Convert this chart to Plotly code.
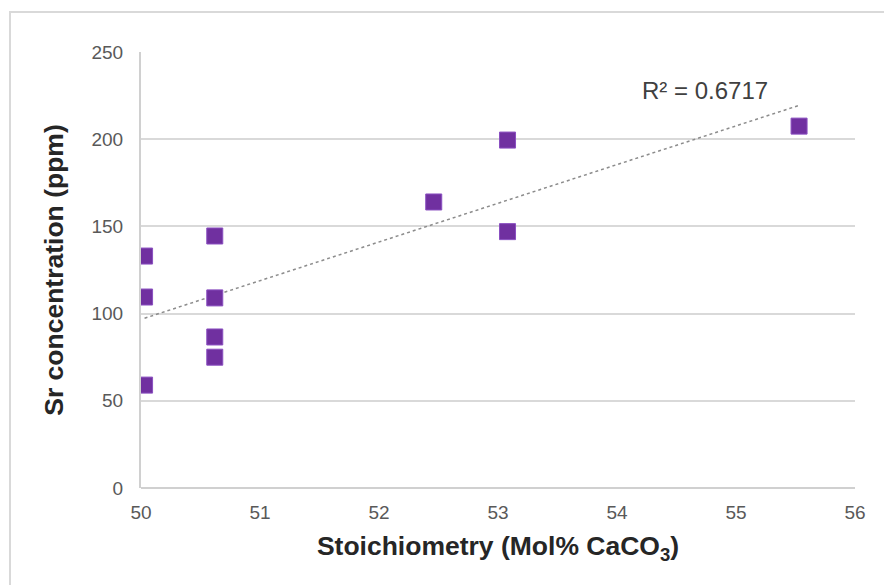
import numpy as np
import plotly.graph_objects as go

# Data
stoich = [50.03, 50.03, 50.03, 50.62, 50.62, 50.62, 50.62, 52.46, 53.08, 53.08, 55.53]
sr_ppm = [133, 109.5, 59, 144.5, 109, 86.6, 75, 164, 199.5, 147, 207.5]
r2_label = "R² = 0.6717"
x_ticks = [50, 51, 52, 53, 54, 55, 56]
y_ticks = [0, 50, 100, 150, 200, 250]

# Linear trendline from the data
coef = np.polyfit(stoich, sr_ppm, 1)
tx = np.array([min(stoich), max(stoich)])
ty = np.polyval(coef, tx)

W, H = 884, 577
ML, MR, MT, MB = 133, 37, 44, 97
PW, PH = W - ML - MR, H - MT - MB

fig = go.Figure()
fig.add_trace(go.Scatter(
    x=tx, y=ty, mode="lines",
    line=dict(color="#8c8c8c", width=1.5, dash="dot"),
    hoverinfo="skip", showlegend=False,
))
fig.add_trace(go.Scatter(
    x=stoich, y=sr_ppm, mode="markers",
    marker=dict(symbol="square", size=16, color="#7030A0",
                line=dict(color="#8a4fc0", width=1)),
    showlegend=False,
))

fig.add_annotation(
    x=54.74, y=228, xref="x", yref="y", text=r2_label, showarrow=False,
    xanchor="center", yanchor="middle",
    font=dict(family="Liberation Sans, Arial, sans-serif", size=24, color="#404040"),
)

# outer chart border (top and left visible)
fig.add_shape(type="rect", xref="paper", yref="paper",
              x0=(2 - ML) / PW, x1=1.3, y0=-0.5, y1=1 + (MT - 4) / PH,
              line=dict(color="#d9d9d9", width=2), fillcolor="rgba(0,0,0,0)",
              layer="below")

tick_font = dict(family="Liberation Sans, Arial, sans-serif", size=19, color="#595959")
title_font = dict(family="Liberation Sans, Arial, sans-serif", size=26.5, color="#262626")

fig.update_layout(
    width=W, height=H,
    margin=dict(l=ML, r=MR, t=MT, b=MB),
    paper_bgcolor="white", plot_bgcolor="white",
    xaxis=dict(
        range=[50, 56], tickvals=x_ticks, ticktext=[str(v) for v in x_ticks],
        showgrid=False, zeroline=False, showline=False,
        ticks="", tickfont=tick_font, ticklabelstandoff=11,
        title=dict(text="<b>Stoichiometry (Mol% CaCO<sub>3</sub>)</b>", font=title_font, standoff=14),
    ),
    yaxis=dict(
        range=[0, 250], tickvals=y_ticks, ticktext=[str(v) for v in y_ticks],
        showgrid=True, gridcolor="#d9d9d9", gridwidth=1.5,
        zeroline=True, zerolinecolor="#d0d0d0", zerolinewidth=2,
        showline=True, linecolor="#d0d0d0", linewidth=2,
        ticks="", tickfont=tick_font, ticklabelstandoff=12,
        title=dict(text="<b>Sr concentration (ppm)</b>", font=title_font, standoff=20),
    ),
)

fig.write_html("out.html")
